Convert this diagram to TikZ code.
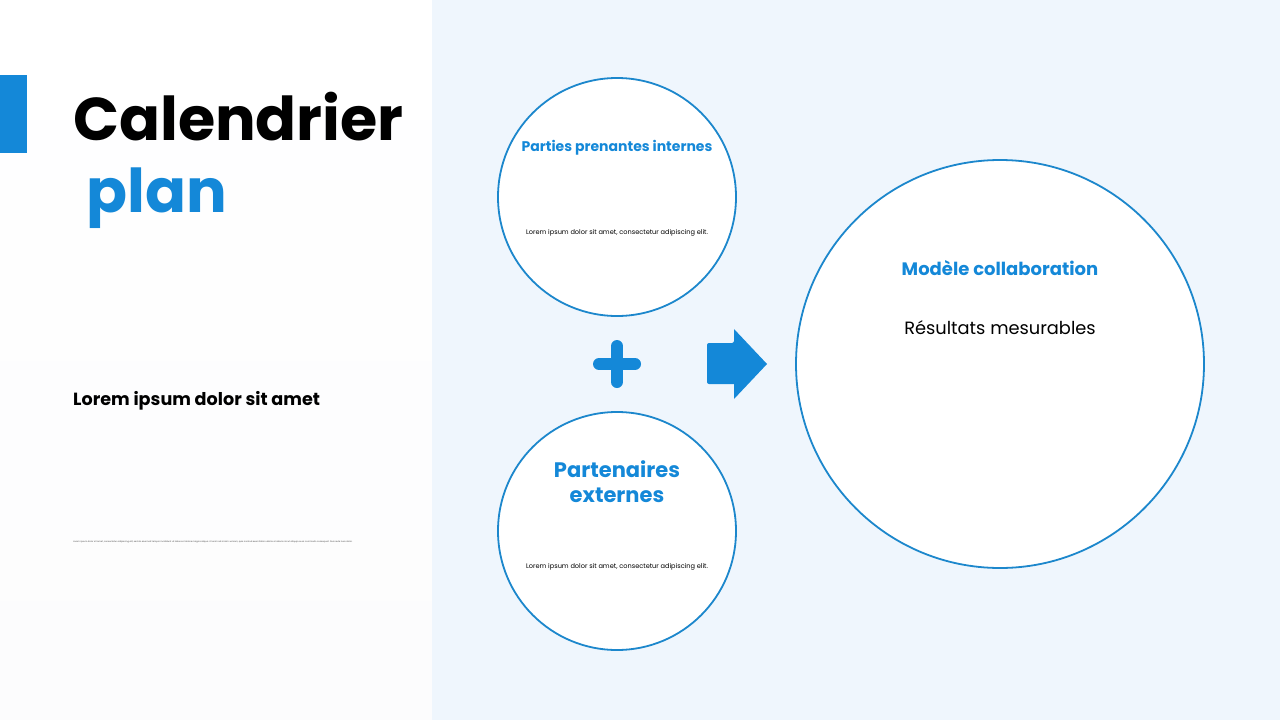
\documentclass[tikz,border=0pt]{standalone}
\usepackage{fontspec}
\setmainfont{Poppins}
\usepackage{tikz}
\usetikzlibrary{positioning}
\definecolor{brand}{HTML}{1488D8}
\definecolor{ring}{HTML}{1C87CC}
\definecolor{panel}{HTML}{EFF6FD}
\definecolor{paper}{HTML}{FCFCFD}
\definecolor{ink}{HTML}{000000}
\tikzset{
  bubble/.style={circle, draw=ring, line width=1.8pt, fill=white, inner sep=0pt},
  ttl/.style={text=brand, font=\bfseries\fontsize{14}{16}\selectfont, align=center},
  ttlbig/.style={text=brand, font=\bfseries\fontsize{21}{25}\selectfont, align=center},
  note/.style={text=ink, font=\fontsize{6.6}{8}\selectfont},
  hero/.style={anchor=base west, inner sep=0pt, font=\bfseries\fontsize{60.4}{70}\selectfont},
  sign/.style={draw=brand, line width=12pt, line cap=round},
}

\begin{document}
\begin{tikzpicture}[x=1pt,y=-1pt]
  % panels
  \shade[top color=white, bottom color=paper] (0,0) rectangle (432,720);
  \fill[panel] (432,0) rectangle (1280,720);
  \useasboundingbox (0,0) rectangle (1280,720);
  \fill[brand] (0,75) rectangle (27,153);
  % heading
  \node[hero, text=ink] (head) at (73,140) {Calendrier};
  \node[hero, text=brand] (sub) at (86,212) {plan};
  \node[anchor=west, inner sep=0pt, font=\bfseries\fontsize{17.6}{20}\selectfont] (lead) at (73,401) {Lorem ipsum dolor sit amet};
  \node[anchor=west, inner sep=0pt, text=ink!70, font=\fontsize{2.18}{3}\selectfont] (fine) at (73,542)
    {Lorem ipsum dolor sit amet, consectetur adipiscing elit, sed do eiusmod tempor incididunt ut labore et dolore magna aliqua. Ut enim ad minim veniam, quis nostrud exercitation ullamco laboris nisi ut aliquip ex ea commodo consequat. Duis aute irure dolor.};
  % circles
  \node[bubble, minimum size=238pt] (inner) at (617,197) {};
  \node[bubble, minimum size=238pt] (outer) at (617,531) {};
  \node[bubble, minimum size=408pt] (model) at (1000,364) {};
  \node[ttl] (innerT) at (617,148) {Parties prenantes internes};
  \node[ttlbig] (outerT) at (617,482) {Partenaires\\externes};
  \foreach \c/\y in {inner/233,outer/567}
    \node[note] (\c L) at (617,\y) {Lorem ipsum dolor sit amet, consectetur adipiscing elit.};
  \node[text=brand, font=\bfseries\fontsize{18}{20}\selectfont] (modelT) at (1000,268) {Modèle collaboration};
  \node[text=ink, font=\fontsize{17.8}{20}\selectfont] (modelS) at (1000,328) {Résultats mesurables};
  % plus and arrow
  \draw[sign] (599,364) -- (635,364) (617,346) -- (617,382);
  \fill[brand, rounded corners=2pt] (707,343) -- (734,343) [sharp corners] -- (734,329) -- (767,364) -- (734,399) -- (734,384) [rounded corners=2pt] -- (707,384) -- cycle;
\end{tikzpicture}
\end{document}
